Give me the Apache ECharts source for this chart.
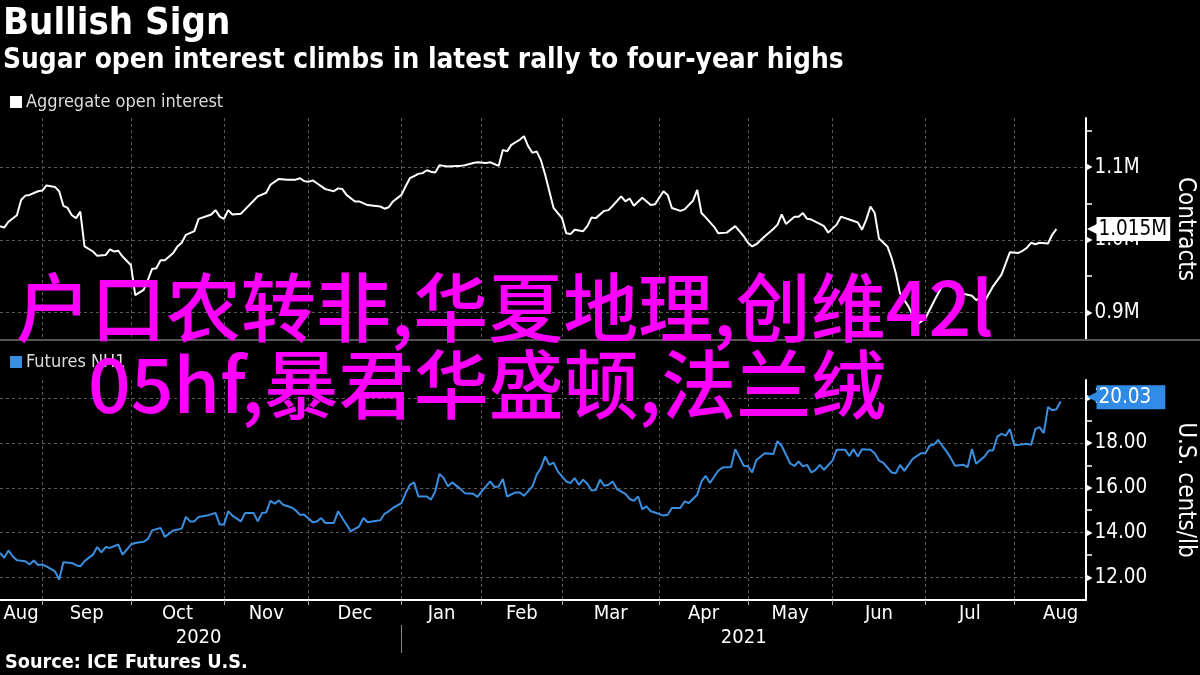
<!DOCTYPE html>
<html>
<head>
<meta charset="utf-8">
<script src="https://cdn.jsdelivr.net/npm/echarts@6/dist/echarts.min.js"></script>
<style>
html,body{margin:0;padding:0;background:#000;}
#chart{width:1200px;height:675px;}
</style>
</head>
<body>
<div id="chart"></div>
<script>
// ---- data (trading-day index since mid-Aug 2020) ----
const monthStartDays = [10, 31, 53, 73, 95, 114, 133, 156, 177, 197, 219, 240];
const monthMidDays = [5, 20.5, 42, 63, 84, 104.5, 123.5, 144.5, 166.5, 187, 208, 229.5, 251];
const monthLabels = ['Aug','Sep','Oct','Nov','Dec','Jan','Feb','Mar','Apr','May','Jun','Jul','Aug'];
const yearMidDays = [47, 176];
const yearLabels = ['2020', '2021'];
const yearBreakDays = [95];

const oiTicks = [900, 1000, 1100];        // thousand contracts
const oiMinorTicks = [950, 1050, 1150];
const futTicks = [12, 14, 16, 18, 20];    // U.S. cents/lb
const futMinorTicks = [13, 15, 17, 19];

const oiDays = [0,1,2,4,5,6,7,9,10,11,13,14,15,16,17,18,19,20,22,23,25,26,27,28,29,31,32,34,35,36,37,38,39,41,42,43,44,46,47,49,50,51,52,53,54,55,57,58,60,61,63,64,66,68,70,71,72,73,74,75,77,79,80,81,82,84,85,87,90,91,92,93,95,96,97,98,99,100,101,102,103,104,105,106,108,109,110,112,113,115,116,118,119,120,121,123,124,125,126,127,128,129,131,132,133,134,135,136,138,139,140,141,143,144,145,147,148,149,150,152,154,155,157,158,159,161,162,163,164,165,166,167,169,170,172,174,176,177,178,179,181,183,184,185,186,188,189,190,191,192,194,195,196,198,199,201,203,204,205,206,207,208,210,211,212,213,215,217,219,221,223,225,226,227,230,231,232,233,235,237,239,241,242,243,244,245,246,248,249,250];
const oiValues = [1019,1017,1025,1034,1055,1061,1062,1067,1068,1075,1073,1067,1047,1044,1034,1030,1039,991,984,978,979,987,984,985,977,965,924,931,945,960,961,972,972,982,991,996,1007,1012,1029,1033,1035,1041,1032,1029,1041,1035,1036,1042,1054,1060,1065,1076,1084,1083,1083,1085,1081,1080,1082,1078,1070,1067,1071,1070,1062,1053,1053,1048,1046,1043,1045,1053,1062,1074,1085,1088,1091,1092,1096,1094,1093,1103,1102,1101,1102,1102,1103,1106,1107,1106,1107,1102,1124,1122,1131,1138,1143,1129,1120,1122,1110,1090,1044,1037,1030,1009,1008,1014,1012,1019,1031,1030,1040,1041,1047,1060,1053,1057,1047,1058,1048,1049,1067,1062,1044,1040,1042,1048,1054,1069,1037,1031,1018,1009,1010,1019,1005,996,991,994,1005,1015,1021,1035,1022,1032,1032,1037,1029,1028,1022,1019,1010,1021,1032,1028,1024,1014,1028,1046,1037,1002,991,975,954,926,908,883,892,915,937,936,933,927,923,917,920,915,936,952,983,982,985,989,996,994,996,995,1007,1015];

const futDays = [0,1,2,3,4,6,7,8,9,10,11,13,14,15,17,18,19,20,22,23,24,25,26,28,29,31,32,34,35,36,38,39,41,43,44,45,46,47,49,51,52,53,54,55,57,58,60,61,62,63,64,65,66,67,69,70,71,72,74,75,76,77,79,80,81,83,85,86,87,88,90,91,92,93,95,96,97,98,99,101,102,103,104,105,106,107,109,110,112,113,114,116,117,118,119,120,122,123,124,126,127,128,129,130,131,132,134,135,136,137,138,139,140,141,142,143,144,145,146,148,149,150,151,152,153,154,155,157,158,159,161,162,163,165,166,167,168,170,171,173,174,176,177,178,179,181,183,184,185,187,188,189,190,191,192,193,194,195,197,198,200,201,202,203,204,206,207,208,209,211,212,213,214,215,216,218,219,220,221,222,223,224,225,226,228,229,230,231,233,234,235,236,237,238,239,240,241,243,244,245,246,247,248,249,250,251];
const futValues = [13.10,12.88,13.21,12.95,12.77,12.73,12.58,12.76,12.56,12.58,12.50,12.28,11.91,12.68,12.65,12.55,12.50,12.73,13.02,13.36,13.12,13.36,13.32,13.47,13.02,13.47,13.54,13.59,13.72,14.10,14.21,13.81,14.10,14.18,14.70,14.50,14.50,14.70,14.76,14.88,14.36,14.36,14.95,14.76,14.50,14.88,14.88,14.50,14.88,14.90,15.42,15.29,15.44,15.24,15.12,14.99,14.80,14.80,14.46,14.50,14.65,14.43,14.43,14.95,14.65,14.06,14.28,14.65,14.46,14.50,14.55,14.84,14.95,15.10,15.32,15.76,16.13,16.24,15.61,15.61,15.47,15.84,16.62,16.43,16.06,16.24,15.94,15.76,15.73,15.59,15.84,16.28,16.03,16.06,16.39,15.61,15.79,15.79,15.64,16.06,16.58,16.88,17.39,17.02,17.12,16.73,16.28,16.21,16.43,16.13,16.36,16.18,15.88,15.90,16.36,16.09,16.13,16.28,15.94,15.73,15.50,15.42,15.61,15.05,15.17,14.95,14.90,14.76,14.80,15.10,15.10,15.39,15.32,15.69,16.28,16.53,16.21,16.77,16.90,16.92,17.72,16.98,16.96,16.68,17.24,17.54,17.50,18.08,17.86,17.08,16.97,17.17,16.95,17.02,16.68,16.80,17.02,16.80,17.21,17.69,17.69,17.42,17.72,17.39,17.72,17.69,17.54,17.21,17.12,16.68,16.65,17.02,16.75,17.02,17.29,17.54,17.54,17.87,17.92,18.13,17.87,17.62,17.32,16.98,17.02,16.92,17.72,17.07,17.39,17.66,17.66,18.28,18.40,18.32,18.61,17.91,17.91,17.96,17.91,18.61,18.70,18.43,19.59,19.45,19.50,19.84,20.03];

const oiName = 'Aggregate open interest';
const futName = 'Futures NH1';
const overlayLine1 = '户口农转非,华夏地理,创维42l';
const overlayLine2 = '05hf,暴君华盛顿,法兰绒';

// ---- build ----
const zip = (a, b) => a.map((d, i) => [d, b[i]]);
const lastOI = oiValues[oiValues.length - 1];
const lastFut = futValues[futValues.length - 1];
const FONT = '"DejaVu Sans Condensed", "DejaVu Sans"';
const GRID_LINE = { color: '#5a5a5a', type: [3, 3], width: 1 };
const BLUE = '#3b8fe0';
const HIDDEN_LINE = { width: 0, color: 'rgba(0,0,0,0)' };

const chart = echarts.init(document.getElementById('chart'), null, { renderer: 'canvas' });

const option = {
  backgroundColor: '#000',
  animation: false,
  title: [
    { text: 'Bullish Sign', left: 3, top: 5, padding: 0,
      textStyle: { color: '#fff', fontFamily: FONT, fontWeight: 'bold', fontSize: 38 } },
    { text: 'Sugar open interest climbs in latest rally to four-year highs', left: 3, top: 47, padding: 0,
      textStyle: { color: '#fff', fontFamily: FONT, fontWeight: 'bold', fontSize: 27.8 } },
    { text: 'Source: ICE Futures U.S.', left: 5, top: 653, padding: 0,
      textStyle: { color: '#fff', fontFamily: FONT, fontWeight: 'bold', fontSize: 19.7 } }
  ],
  legend: [
    { data: [oiName], left: 10, top: 93, padding: 0, icon: 'rect', itemWidth: 12, itemHeight: 12, itemGap: 4,
      textStyle: { color: '#ddd', fontFamily: FONT, fontSize: 18, padding: [0, 0, 0, -1] } },
    { data: [futName], left: 10, top: 353, padding: 0, icon: 'rect', itemWidth: 12, itemHeight: 12, itemGap: 4,
      textStyle: { color: '#ddd', fontFamily: FONT, fontSize: 18, padding: [0, 0, 0, -1] } }
  ],
  grid: [
    { left: 0, right: 114, top: 118, height: 222, outerBoundsMode: 'none', containLabel: false },
    { left: 0, right: 114, top: 380, height: 220, outerBoundsMode: 'none', containLabel: false }
  ],
  xAxis: [
    { type: 'value', gridIndex: 0, min: 0, max: 257, position: 'bottom',
      axisLine: { show: false, onZero: false }, axisTick: { show: false, customValues: monthStartDays },
      axisLabel: { show: false }, splitLine: { show: true, lineStyle: GRID_LINE } },
    { type: 'value', gridIndex: 1, min: 0, max: 257, position: 'bottom',
      axisLine: { show: true, onZero: false, lineStyle: { color: '#fff', width: 2 } },
      axisTick: { show: true, customValues: monthStartDays, length: 5, lineStyle: { color: '#aaa' } },
      axisLabel: { customValues: monthMidDays, color: '#fff', fontFamily: FONT, fontSize: 20, margin: 4,
        formatter: v => monthLabels[monthMidDays.indexOf(v)] },
      splitLine: { show: true, lineStyle: GRID_LINE } },
    { type: 'value', gridIndex: 1, min: 0, max: 257, position: 'bottom', offset: 25,
      axisLine: { show: false, onZero: false },
      axisTick: { show: true, customValues: yearBreakDays, length: 28, lineStyle: { color: '#888' } },
      axisLabel: { customValues: yearMidDays, color: '#fff', fontFamily: FONT, fontSize: 20, margin: 3,
        formatter: v => yearLabels[yearMidDays.indexOf(v)] },
      splitLine: { show: false } }
  ],
  yAxis: [
    { type: 'value', gridIndex: 0, position: 'right', min: 862, max: 1168,
      name: 'Contracts', nameLocation: 'middle', nameRotate: -90, nameGap: 87,
      nameTextStyle: { color: '#fff', fontFamily: FONT, fontSize: 24 },
      axisLine: { show: true, onZero: false, lineStyle: { color: '#fff', width: 2 } },
      axisTick: { show: false, customValues: oiTicks },
      axisLabel: { customValues: oiTicks, margin: 1, color: '#fff', fontFamily: FONT, fontSize: 20.5,
        formatter: v => '{t|▸}' + (v / 1000).toFixed(1) + 'M',
        rich: { t: { fontSize: 12, color: '#fff', padding: [0, 2, 0, 0] } } },
      splitLine: { show: true, lineStyle: GRID_LINE } },
    { type: 'value', gridIndex: 0, position: 'right', min: 862, max: 1168,
      axisLine: { show: false, onZero: false }, axisLabel: { show: false }, splitLine: { show: false },
      axisTick: { show: true, customValues: oiMinorTicks, length: 6, lineStyle: { color: '#fff', width: 1.5 } } },
    { type: 'value', gridIndex: 1, position: 'right', min: 11, max: 20.8,
      name: 'U.S. cents/lb', nameLocation: 'middle', nameRotate: -90, nameGap: 87,
      nameTextStyle: { color: '#fff', fontFamily: FONT, fontSize: 24 },
      axisLine: { show: true, onZero: false, lineStyle: { color: '#fff', width: 2 } },
      axisTick: { show: false, customValues: futTicks },
      axisLabel: { customValues: futTicks, margin: 1, color: '#fff', fontFamily: FONT, fontSize: 20.5,
        formatter: v => '{t|▸}' + v.toFixed(2),
        rich: { t: { fontSize: 12, color: '#fff', padding: [0, 2, 0, 0] } } },
      splitLine: { show: true, lineStyle: GRID_LINE } },
    { type: 'value', gridIndex: 1, position: 'right', min: 11, max: 20.8,
      axisLine: { show: false, onZero: false }, axisLabel: { show: false }, splitLine: { show: false },
      axisTick: { show: true, customValues: futMinorTicks, length: 6, lineStyle: { color: '#fff', width: 1.5 } } }
  ],
  series: [
    { name: oiName, type: 'line', xAxisIndex: 0, yAxisIndex: 0, data: zip(oiDays, oiValues),
      showSymbol: false, symbol: 'none', color: '#ffffff', lineStyle: { color: '#ffffff', width: 2 },
      markLine: { silent: true, symbol: 'none', animation: false,
        lineStyle: HIDDEN_LINE,
        data: [{ yAxis: lastOI }],
        label: { show: true, position: 'end', distance: 1, opacity: 1,
          formatter: '{a|◀}{b|' + (lastOI / 1000).toFixed(3) + 'M}',
          rich: { a: { color: '#fff', fontSize: 15, fontFamily: 'DejaVu Sans', padding: [0, -2, 0, 0] },
                  b: { backgroundColor: '#fff', color: '#000', fontSize: 20.5, fontFamily: FONT, padding: [2, 3, 1, 2] } } } } },
    { name: futName, type: 'line', xAxisIndex: 1, yAxisIndex: 2, data: zip(futDays, futValues),
      showSymbol: false, symbol: 'none', color: BLUE, lineStyle: { color: BLUE, width: 2 },
      markLine: { silent: true, symbol: 'none', animation: false,
        lineStyle: HIDDEN_LINE,
        data: [{ yAxis: lastFut }],
        label: { show: true, position: 'end', distance: 1, opacity: 1,
          formatter: '{a|◀}{b|' + lastFut.toFixed(2) + '}',
          rich: { a: { color: '#2f8be6', fontSize: 15, fontFamily: 'DejaVu Sans', padding: [0, -2, 0, 0] },
                  b: { backgroundColor: '#2f8be6', color: '#fff', fontSize: 20.5, fontFamily: FONT, padding: [2, 14, 1, 2] } } } } }
  ],
  graphic: [
    { type: 'rect', z: 50, silent: true, shape: { x: 0, y: 339, width: 1200, height: 2 }, style: { fill: '#555' } },
    { type: 'text', z: 100, silent: true, x: 16, y: 307,
      style: { text: overlayLine1, fill: '#ff00ff', fontFamily: 'Noto Sans CJK SC', fontWeight: 500, fontSize: 75, verticalAlign: 'middle', align: 'left' } },
    { type: 'text', z: 100, silent: true, x: 88, y: 384,
      style: { text: overlayLine2, fill: '#ff00ff', fontFamily: 'Noto Sans CJK SC', fontWeight: 500, fontSize: 75, verticalAlign: 'middle', align: 'left' } }
  ]
};
chart.setOption(option);
</script>
</body>
</html>
